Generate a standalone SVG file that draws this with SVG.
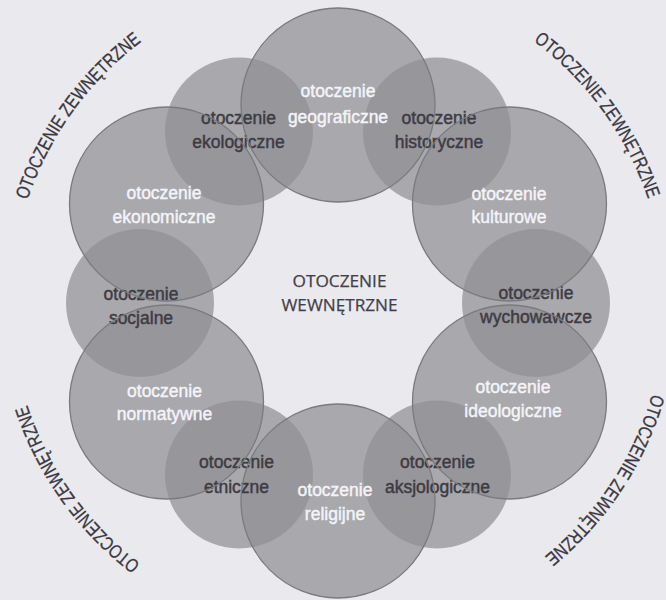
<svg xmlns="http://www.w3.org/2000/svg" width="666" height="600" viewBox="0 0 666 600">
  <style>
    .disc { fill: #8f8f94; fill-opacity: 0.72; }
    .ring { fill: none; stroke: #7a7a7f; stroke-width: 1.3; }
    .lbl { font-family: "Liberation Sans", Arial, sans-serif; font-size: 17.5px; text-anchor: middle; stroke-width: 0.45; }
    .big .lbl { fill: #f4f4f7; stroke: #f4f4f7; }
    .small .lbl { fill: #3e3b42; stroke: #3e3b42; }
    .core { font-family: "Open Sans", "DejaVu Sans", sans-serif; font-size: 16.5px; fill: #433f48; stroke: #433f48; stroke-width: 0.25; text-anchor: middle; }
    .outer { font-family: "Liberation Sans", Arial, sans-serif; font-size: 19px; fill: #3a3740; stroke: #3a3740; stroke-width: 0.3; }
  </style>
  <defs>
    <path id="arcTL" d="M 16.7 242.3 A 327 327 0 0 1 178.0 17.8"/>
    <path id="arcTR" d="M 497.0 17.3 A 327 327 0 0 1 659.1 241.2"/>
    <path id="arcBR" d="M 661.4 351.3 A 327 327 0 0 1 508.9 581.8"/>
    <path id="arcBL" d="M 177.0 587.6 A 327 327 0 0 1 16.5 362.6"/>
  </defs>

  <rect x="0" y="0" width="666" height="600" fill="#eaeaee"/>

  <!-- translucent discs (fills) -->
  <g id="discs">
    <circle class="disc" cx="437" cy="131.5" r="74"/>
    <circle class="disc" cx="536" cy="303" r="74"/>
    <circle class="disc" cx="437" cy="474.5" r="74"/>
    <circle class="disc" cx="239" cy="474.5" r="74"/>
    <circle class="disc" cx="140" cy="303" r="74"/>
    <circle class="disc" cx="239" cy="131.5" r="74"/>
    <circle class="disc" cx="338" cy="105" r="97"/>
    <circle class="disc" cx="509.5" cy="204" r="97"/>
    <circle class="disc" cx="509.5" cy="402" r="97"/>
    <circle class="disc" cx="338" cy="501" r="97"/>
    <circle class="disc" cx="166.5" cy="402" r="97"/>
    <circle class="disc" cx="166.5" cy="204" r="97"/>
  </g>

  <!-- small nodes -->
  <g id="node-historyczne" class="small">
    <text class="lbl" x="439" y="124">otoczenie</text>
    <text class="lbl" x="439" y="148">historyczne</text>
  </g>
  <g id="node-wychowawcze" class="small">
    <text class="lbl" x="536" y="299">otoczenie</text>
    <text class="lbl" x="536" y="323">wychowawcze</text>
  </g>
  <g id="node-aksjologiczne" class="small">
    <text class="lbl" x="437.5" y="468">otoczenie</text>
    <text class="lbl" x="437.5" y="493">aksjologiczne</text>
  </g>
  <g id="node-etniczne" class="small">
    <text class="lbl" x="236.5" y="468">otoczenie</text>
    <text class="lbl" x="236.5" y="493">etniczne</text>
  </g>
  <g id="node-socjalne" class="small">
    <text class="lbl" x="141" y="300">otoczenie</text>
    <text class="lbl" x="141" y="324">socjalne</text>
  </g>
  <g id="node-ekologiczne" class="small">
    <text class="lbl" x="238.5" y="124">otoczenie</text>
    <text class="lbl" x="238.5" y="148">ekologiczne</text>
  </g>

  <!-- big nodes -->
  <g id="node-geograficzne" class="big">
    <circle class="ring" cx="338" cy="105" r="97"/>
    <text class="lbl" x="338" y="97">otoczenie</text>
    <text class="lbl" x="338" y="123">geograficzne</text>
  </g>
  <g id="node-kulturowe" class="big">
    <circle class="ring" cx="509.5" cy="204" r="97"/>
    <text class="lbl" x="509" y="200">otoczenie</text>
    <text class="lbl" x="509" y="223">kulturowe</text>
  </g>
  <g id="node-ideologiczne" class="big">
    <circle class="ring" cx="509.5" cy="402" r="97"/>
    <text class="lbl" x="513" y="393">otoczenie</text>
    <text class="lbl" x="513" y="417">ideologiczne</text>
  </g>
  <g id="node-religijne" class="big">
    <circle class="ring" cx="338" cy="501" r="97"/>
    <text class="lbl" x="335" y="496">otoczenie</text>
    <text class="lbl" x="335" y="520">religijne</text>
  </g>
  <g id="node-normatywne" class="big">
    <circle class="ring" cx="166.5" cy="402" r="97"/>
    <text class="lbl" x="164.5" y="397">otoczenie</text>
    <text class="lbl" x="164.5" y="420">normatywne</text>
  </g>
  <g id="node-ekonomiczne" class="big">
    <circle class="ring" cx="166.5" cy="204" r="97"/>
    <text class="lbl" x="164" y="199">otoczenie</text>
    <text class="lbl" x="164" y="223">ekonomiczne</text>
  </g>

  <!-- centre -->
  <g id="node-wewnetrzne">
    <text class="core" x="339.5" y="287" textLength="94" lengthAdjust="spacingAndGlyphs">OTOCZENIE</text>
    <text class="core" x="339.5" y="311" textLength="116" lengthAdjust="spacingAndGlyphs">WEWNĘTRZNE</text>
  </g>

  <!-- connectors: none in this diagram -->
  <g id="connectors"></g>

  <!-- outer labels -->
  <g id="zewnetrzne">
    <text class="outer"><textPath href="#arcTL" startOffset="50%" text-anchor="middle" textLength="198" lengthAdjust="spacingAndGlyphs">OTOCZENIE ZEWNĘTRZNE</textPath></text>
    <text class="outer"><textPath href="#arcTR" startOffset="50%" text-anchor="middle" textLength="198" lengthAdjust="spacingAndGlyphs">OTOCZENIE ZEWNĘTRZNE</textPath></text>
    <text class="outer"><textPath href="#arcBR" startOffset="50%" text-anchor="middle" textLength="198" lengthAdjust="spacingAndGlyphs">OTOCZENIE ZEWNĘTRZNE</textPath></text>
    <text class="outer"><textPath href="#arcBL" startOffset="50%" text-anchor="middle" textLength="198" lengthAdjust="spacingAndGlyphs">OTOCZENIE ZEWNĘTRZNE</textPath></text>
  </g>
</svg>
